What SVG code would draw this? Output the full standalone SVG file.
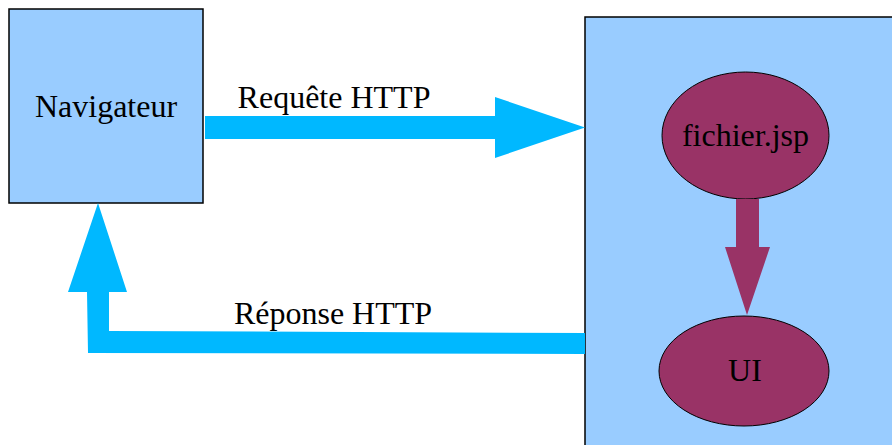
<svg xmlns="http://www.w3.org/2000/svg" width="892" height="445" viewBox="0 0 892 445">
  <style>
    .box { fill: #99ccff; stroke: #000; stroke-width: 1.5; }
    .blob { fill: #993366; stroke: #000; stroke-width: 1; }
    .flow { fill: #00b8ff; }
    .inner { fill: #993366; }
    text { font-family: "Liberation Serif", "Times New Roman", serif; font-size: 32px; fill: #000; text-anchor: middle; }
  </style>

  <!-- server area -->
  <g id="serveur">
    <rect class="box" x="585" y="17" width="330" height="450"/>
  </g>

  <g id="navigateur">
    <rect class="box" x="9" y="9" width="194" height="194"/>
    <text x="106" y="117">Navigateur</text>
  </g>

  <g id="fichier-jsp">
    <ellipse class="blob" cx="745.5" cy="135.5" rx="83.5" ry="63.5"/>
    <text x="745.5" y="146">fichier.jsp</text>
  </g>

  <g id="ui">
    <ellipse class="blob" cx="744" cy="371" rx="85" ry="55"/>
    <text x="745" y="381">UI</text>
  </g>

  <g id="connecteurs">
    <!-- request: browser to server -->
    <polygon class="flow" points="205,116 495,116 495,97 585,127.5 495,158 495,139 205,139"/>
    <text x="334" y="107.5">Requête HTTP</text>

    <!-- response: server back to browser -->
    <polygon class="flow" points="585,333 109,331 109,292 127,292 98,203 68,292 87,292 88,353 585,354"/>
    <text x="333" y="323.5">Réponse HTTP</text>

    <!-- jsp to UI -->
    <polygon class="inner" points="736,199 759,199 759,247 770,247 747,315 725,247 736,247"/>
  </g>
</svg>
